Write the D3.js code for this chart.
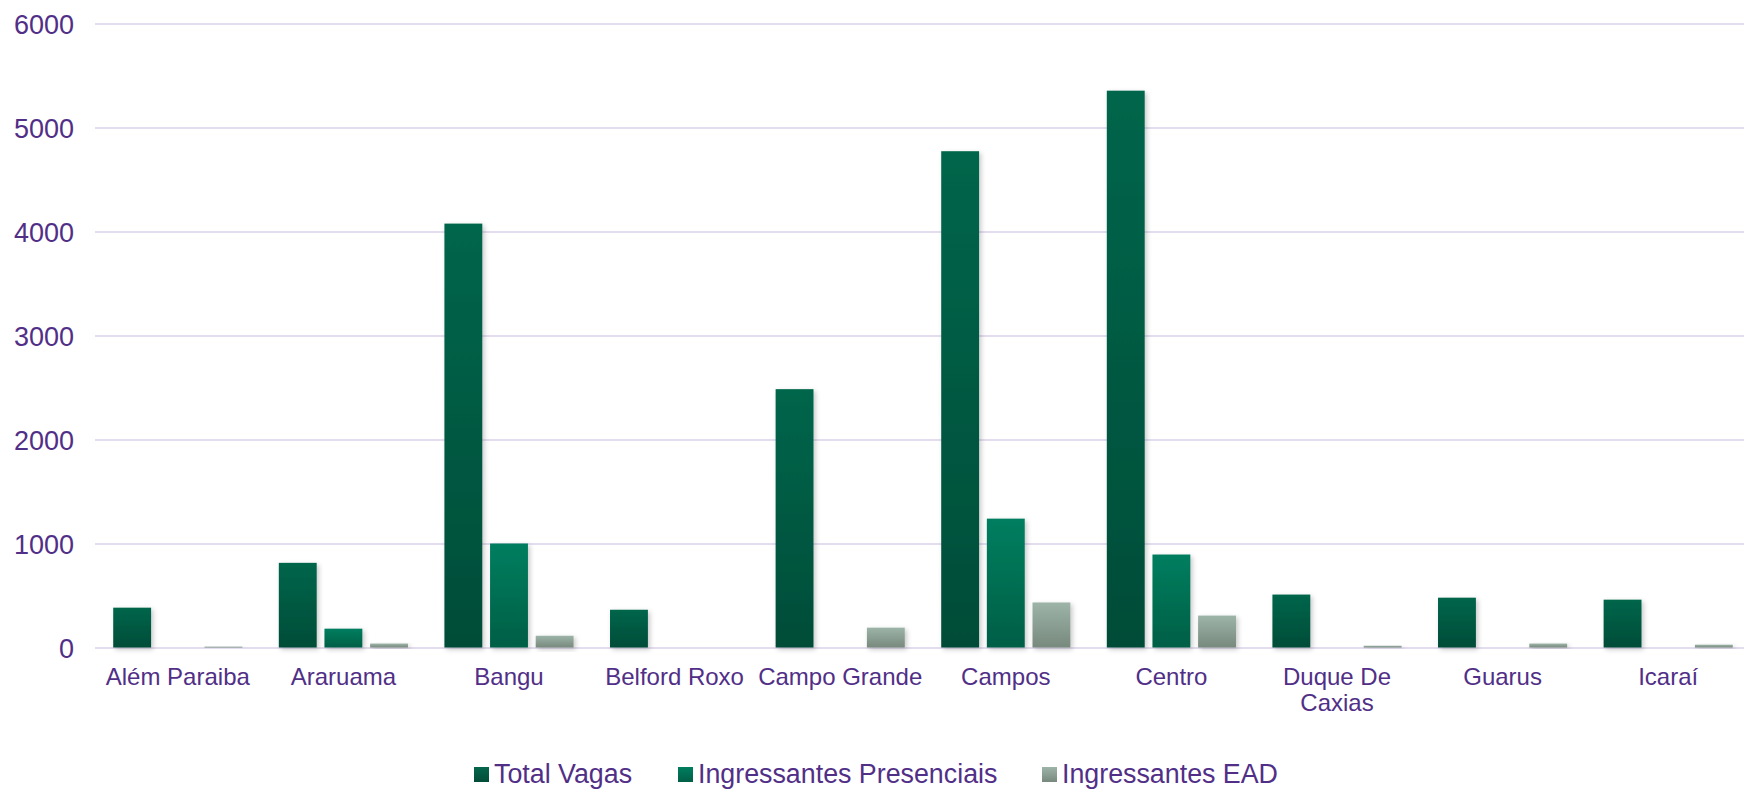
<!DOCTYPE html>
<html>
<head>
<meta charset="utf-8">
<script src="https://cdn.jsdelivr.net/npm/d3@7"></script>
<style>
  body { margin: 0; background: #fff; }
  svg { display: block; font-family: "Liberation Sans", Arial, sans-serif; }
  .tick text { fill: #512f87; font-size: 27px; }
  .tick line { stroke: #e4ddf0; stroke-width: 2px; }
  .cat-label { fill: #512f87; font-size: 24px; }
  .legend text { fill: #512f87; font-size: 26.8px; }
</style>
</head>
<body>
<div id="chart-container"></div>
<script>
// Data
const categories = ["Além Paraiba", "Araruama", "Bangu", "Belford Roxo", "Campo Grande",
                    "Campos", "Centro", "Duque De Caxias", "Guarus", "Icaraí"];
const seriesNames = ["Total Vagas", "Ingressantes Presenciais", "Ingressantes EAD"];
const totalVagas = [383, 814, 4076, 363, 2484, 4772, 5354, 509, 479, 460];
const presenciais = [0, 181, 1000, 0, 0, 1239, 894, 0, 0, 0];
const ead = [9, 38, 113, 0, 191, 433, 307, 17, 38, 27];
const yTicks = [0, 1000, 2000, 3000, 4000, 5000, 6000];

const seriesValues = [totalVagas, presenciais, ead];

// Size
const width = 1744, height = 789;
const margin = {top: 23.5, left: 95, bottom: 141.5, right: -7};

const svg = d3.select("#chart-container").append("svg")
  .attr("width", width).attr("height", height);

// Gradients + shadow
const defs = svg.append("defs");
const grads = [["#05664b", "#024c38"], ["#007e5f", "#005f46"], ["#9db4a9", "#78897d"]];
grads.forEach((g, i) => {
  const lg = defs.append("linearGradient").attr("id", `grad${i}`)
    .attr("x1", 0).attr("y1", 0).attr("x2", 0).attr("y2", 1);
  lg.append("stop").attr("offset", "0%").attr("stop-color", g[0]);
  lg.append("stop").attr("offset", "100%").attr("stop-color", g[1]);
});
defs.append("filter").attr("id", "shadow")
  .attr("x", "-30%").attr("y", "-30%").attr("width", "160%").attr("height", "160%")
  .append("feDropShadow")
    .attr("dx", 2).attr("dy", 2).attr("stdDeviation", 2.5)
    .attr("flood-color", "#000").attr("flood-opacity", 0.22);

// Scales
const x0 = d3.scaleBand()
  .domain(categories)
  .range([margin.left, width - margin.right])
  .paddingInner(0.22)
  .paddingOuter(0.11);

const x1 = d3.scaleBand()
  .domain(d3.range(seriesNames.length))
  .range([0, x0.bandwidth()])
  .paddingInner(0.17);

const y = d3.scaleLinear()
  .domain([0, 6000])
  .range([height - margin.bottom, margin.top]);

// Y axis + gridlines
svg.append("g")
  .attr("class", "y-axis")
  .attr("transform", `translate(${margin.left},0)`)
  .call(d3.axisLeft(y).tickValues(yTicks).tickFormat(d3.format("d"))
    .tickSize(-(width - margin.right - margin.left)).tickPadding(21))
  .call(g => g.select(".domain").remove())
  .call(g => g.selectAll(".tick text").attr("dy", "0.36em"));

// Bars
const group = svg.append("g").attr("id", "bars").selectAll("g")
  .data(categories)
  .join("g")
  .attr("transform", d => `translate(${x0(d)},0)`);

group.selectAll("rect")
  .data((d, i) => seriesValues.map((s, k) => ({k, v: s[i]})))
  .join("rect")
    .filter(d => d.v > 0)
    .attr("x", d => x1(d.k))
    .attr("y", d => y(d.v))
    .attr("width", x1.bandwidth())
    .attr("height", d => y(0) - y(d.v))
    .attr("fill", d => `url(#grad${d.k})`)
    .attr("filter", "url(#shadow)");

// Category labels (wrap if too wide)
const labels = svg.append("g").attr("id", "x-labels");
categories.forEach(c => {
  const cx = x0(c) + x0.bandwidth() / 2;
  const t = labels.append("text")
    .attr("class", "cat-label")
    .attr("text-anchor", "middle")
    .attr("x", cx)
    .attr("y", y(0) + 37);
  t.text(c);
  if (t.node().getComputedTextLength() > x0.step()) {
    const words = c.split(" ");
    const last = words.pop();
    t.text(null);
    t.append("tspan").attr("x", cx).text(words.join(" "));
    t.append("tspan").attr("x", cx).attr("dy", 26).text(last);
  }
});

// Legend
const legendX = [474, 678, 1042];
const legend = svg.append("g").attr("class", "legend");
seriesNames.forEach((name, i) => {
  legend.append("rect")
    .attr("x", legendX[i]).attr("y", 767)
    .attr("width", 15).attr("height", 15)
    .attr("fill", `url(#grad${i})`);
  legend.append("text")
    .attr("x", legendX[i] + 20).attr("y", 783)
    .text(name);
});
</script>
</body>
</html>
